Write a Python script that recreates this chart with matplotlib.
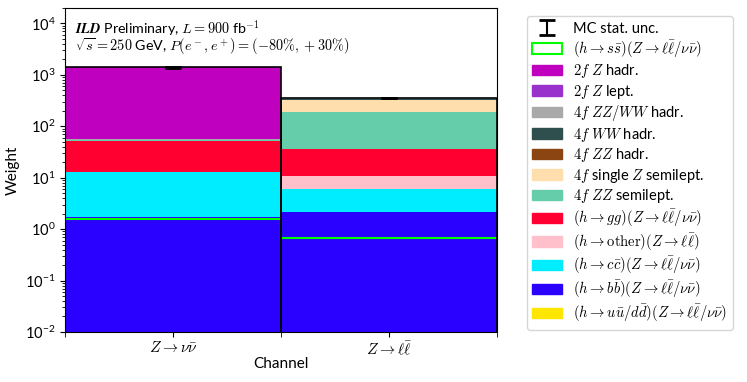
import numpy as np
import matplotlib
matplotlib.use('Agg')
import matplotlib.pyplot as plt
from matplotlib.patches import Patch

plt.rcParams['mathtext.fontset'] = 'cm'
plt.rcParams['font.family'] = ['Lato', 'DejaVu Sans']

channels = [r'$Z \to \nu\bar{\nu}$', r'$Z \to \ell\bar{\ell}$']
centers = [0.5, 1.5]
edges = [0, 1, 2]

# stacked contributions, bottom of stack first
bkg_labels = [
    r'$(h \to u\bar{u}/d\bar{d})(Z \to \ell\bar{\ell}/\nu\bar{\nu})$',
    r'$(h \to b\bar{b})(Z \to \ell\bar{\ell}/\nu\bar{\nu})$',
    r'$(h \to c\bar{c})(Z \to \ell\bar{\ell}/\nu\bar{\nu})$',
    r'$(h \to \mathrm{other})(Z \to \ell\bar{\ell})$',
    r'$(h \to gg)(Z \to \ell\bar{\ell}/\nu\bar{\nu})$',
    r'$4f\ ZZ$ semilept.',
    r'$4f$ single $Z$ semilept.',
    r'$4f\ ZZ$ hadr.',
    r'$4f\ WW$ hadr.',
    r'$4f\ ZZ/WW$ hadr.',
    r'$2f\ Z$ lept.',
    r'$2f\ Z$ hadr.',
]
bkg_colors = ['#ffe600', '#2a00ff', '#00ecff', '#ffc0cb', '#ff0030', '#66cdaa',
              '#ffdead', '#8b4513', '#2f4f4f', '#a9a9a9', '#9932cc', '#bf00bf']
uu = [0.002, 0.001]
bb = [1.75, 2.17]
cc = [11.35, 3.83]
other = [0.0, 4.9]
gg = [38.9, 25.1]
zz_semilept = [1.5, 152.0]
single_z = [0.3, 131.0]
zz_hadr = [0.2, 2.0]
ww_hadr = [0.1, 22.0]
zzww_hadr = [2.0, 8.0]
twof_lept = [0.2, 2.0]
twof_hadr = [1338.0, 3.0]
stack = [uu, bb, cc, other, gg, zz_semilept, single_z, zz_hadr, ww_hadr,
         zzww_hadr, twof_lept, twof_hadr]

ss = [1.6, 0.66]
mc_err = [40.0, 5.0]

total = np.sum(np.array(stack), axis=0)

fig = plt.figure(figsize=(7.47, 3.82), dpi=100)
ax = fig.add_axes([0.087, 0.131, 0.578, 0.848])

n, b, patches = ax.hist([centers] * len(stack), bins=edges, weights=stack,
                        stacked=True, histtype='stepfilled', color=bkg_colors,
                        label=bkg_labels, log=True, lw=0)
ax.stairs(ss, edges, baseline=None, color='#00ff00', lw=1.5)
ax.hist(centers, bins=edges, weights=total, histtype='bar', fill=False,
        edgecolor='black', lw=1.2, rwidth=1.0)
eb = ax.errorbar(centers, total, yerr=mc_err, fmt='none', ecolor='black',
                 capsize=6, capthick=2, elinewidth=1.5)

ax.set_xlim(0, 2)
ax.set_ylim(1e-2, 2e4)
ax.set_xticks(centers)
ax.set_xticklabels(channels, fontsize=11)
ax.set_xticks(edges, minor=True)
ax.tick_params(axis='x', which='minor', length=3.5)
ax.tick_params(axis='y', labelsize=10.5)
ax.tick_params(axis='x', which='major', pad=2)
ax.set_xlabel('Channel', fontsize=11, labelpad=0)
ax.set_ylabel('Weight', fontsize=11)

ax.text(0.023, 0.968, r'$\boldsymbol{ILD}$ Preliminary, $L = 900$ fb$^{-1}$' + '\n'
        + r'$\sqrt{s} = 250$ GeV, $P(e^-, e^+) = (-80\%, +30\%)$',
        transform=ax.transAxes, va='top', ha='left', fontsize=10.3, linespacing=0.85)

handles = [eb, Patch(facecolor='none', edgecolor='#00ff00', lw=1.5)]
labels = ['MC stat. unc.',
          r'$(h \to s\bar{s})(Z \to \ell\bar{\ell}/\nu\bar{\nu})$']
for c, l in zip(bkg_colors[::-1], bkg_labels[::-1]):
    handles.append(Patch(facecolor=c, edgecolor=c))
    labels.append(l)
fig.legend(handles, labels, loc='upper left', bbox_to_anchor=(0.705, 0.958),
           fontsize=10.5, borderaxespad=0, labelspacing=0.17, handlelength=2.0)

fig.savefig('out.png', dpi=100)
